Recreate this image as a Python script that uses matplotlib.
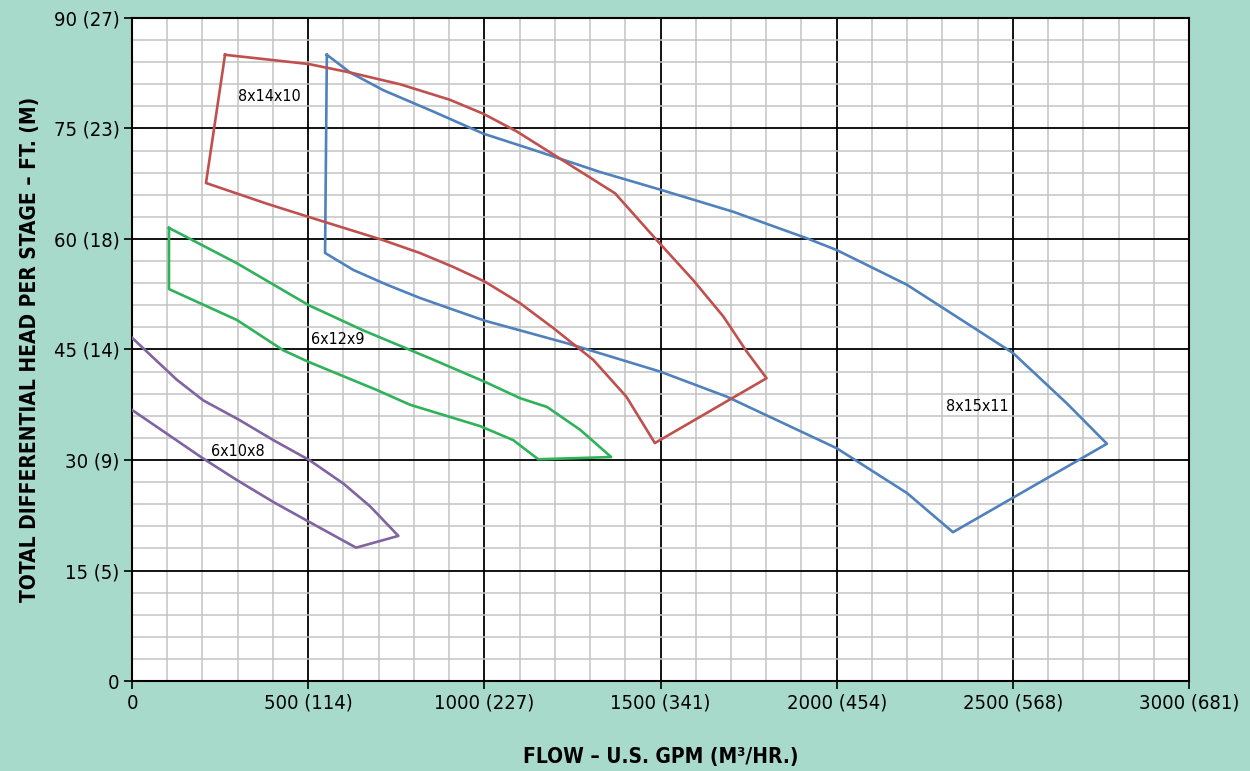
import matplotlib.pyplot as plt
from matplotlib import font_manager
from matplotlib.ticker import MultipleLocator

BG = "#a8dacb"

# pick a narrow face if one is installed, the reference uses a condensed font
_faces = {(f.name, f.stretch) for f in font_manager.fontManager.ttflist}
_names = {n for n, _ in _faces}
if "Liberation Sans Narrow" in _names:
    FONT, STRETCH = ["Liberation Sans Narrow", "DejaVu Sans"], "normal"
elif ("DejaVu Sans", "condensed") in _faces:
    FONT, STRETCH = ["DejaVu Sans"], "condensed"
else:
    FONT, STRETCH = ["Liberation Sans", "DejaVu Sans"], "normal"

# pump envelopes, flow in US GPM, head in ft (closed outlines)
blue_x = [553, 548, 628, 723, 817, 912, 1002, 1101, 1238, 1499, 1688, 2000,
          2200, 2330, 2767, 2653, 2501, 2407, 2199, 2000, 1915, 1706, 1499,
          1328, 1139, 997, 855, 713, 619, 553]
blue_y = [85.0, 58.1, 55.8, 53.8, 52.0, 50.4, 48.9, 47.6, 45.8, 42.0, 38.6,
          31.6, 25.5, 20.2, 32.2, 37.7, 44.5, 47.4, 53.8, 58.5, 60.1, 63.7,
          66.7, 69.1, 72.1, 74.3, 77.3, 80.2, 82.6, 85.0]

red_x = [264, 210, 382, 501, 709, 817, 912, 1002, 1101, 1196, 1309,
         1403, 1484, 1801, 1745, 1678, 1593, 1494, 1371, 1215, 1092, 997,
         902, 761, 619, 501, 264]
red_y = [85.0, 67.6, 64.8, 63.0, 59.9, 58.1, 56.2, 54.2, 51.3, 47.9, 43.6,
         38.6, 32.3, 41.1, 44.7, 49.5, 54.4, 59.6, 66.2, 70.9, 74.6,
         77.0, 78.9, 81.0, 82.6, 83.75, 85.0]

green_x = [105, 105, 298, 429, 502, 695, 789, 988, 1082, 1153,
           1360, 1272, 1178, 1101, 1002, 846, 656, 502, 298, 105]
green_y = [61.5, 53.2, 49.0, 44.9, 43.3, 39.5, 37.5, 34.6, 32.7, 30.1,
           30.4, 34.1, 37.2, 38.4, 40.6, 43.8, 47.6, 51.0, 56.7, 61.5]

purple_x = [0, 127, 202, 306, 401, 503, 600, 676, 756,
            636, 503, 401, 297, 202, 98, 0]
purple_y = [46.6, 40.9, 38.1, 35.4, 32.7, 30.0, 26.8, 23.7, 19.7,
            18.1, 21.6, 24.3, 27.3, 30.2, 33.6, 36.8]

series = [
    ("8x15x11", blue_x, blue_y, "#4f81bd", (2398, 37.2)),
    ("8x14x10", red_x, red_y, "#c0504d", (390, 79.3)),
    ("6x12x9", green_x, green_y, "#2fb25a", (585, 46.3)),
    ("6x10x8", purple_x, purple_y, "#8064a2", (300, 31.1)),
]

x_ticks = [0, 500, 1000, 1500, 2000, 2500, 3000]
x_labels = ["0", "500 (114)", "1000 (227)", "1500 (341)", "2000 (454)",
            "2500 (568)", "3000 (681)"]
y_ticks = [0, 15, 30, 45, 60, 75, 90]
y_labels = ["0", "15 (5)", "30 (9)", "45 (14)", "60 (18)", "75 (23)", "90 (27)"]

fig = plt.figure(figsize=(12.5, 7.71), dpi=100, facecolor=BG)
ax = fig.add_axes([0.1056, 0.1167, 0.8456, 0.86])
ax.set_facecolor("white")

for name, xs, ys, col, lab in series:
    ax.plot(xs, ys, color=col, lw=1.9, zorder=3)
    ax.text(lab[0], lab[1], name, fontsize=11.5, family=FONT, fontstretch=STRETCH,
            ha="center", va="center", zorder=4)

ax.set_xlim(0, 3000)
ax.set_ylim(0, 90)
ax.xaxis.set_minor_locator(MultipleLocator(100))
ax.yaxis.set_minor_locator(MultipleLocator(3))
ax.grid(which="minor", color="#c4c4c4", lw=1.1, zorder=1)
ax.grid(which="major", color="black", lw=1.3, zorder=2)
ax.set_axisbelow(True)

ax.set_xticks(x_ticks)
ax.set_xticklabels(x_labels, family=FONT, fontstretch=STRETCH, fontsize=14.5)
ax.set_yticks(y_ticks)
ax.set_yticklabels(y_labels, family=FONT, fontstretch=STRETCH, fontsize=14.5)
ax.tick_params(which="major", direction="out", length=6, width=1.2, pad=3)
ax.tick_params(which="minor", length=0)
for s in ax.spines.values():
    s.set_color("black")
    s.set_linewidth(1.5)

ax.set_xlabel("FLOW – U.S. GPM (M³/HR.)", family=FONT, fontstretch=STRETCH,
              fontsize=15, fontweight="bold", labelpad=25)
ax.set_ylabel("TOTAL DIFFERENTIAL HEAD PER STAGE – FT. (M)", family=FONT,
              fontstretch=STRETCH, fontsize=15, fontweight="bold", labelpad=10)

plt.savefig("out.png", dpi=100, facecolor=BG)
